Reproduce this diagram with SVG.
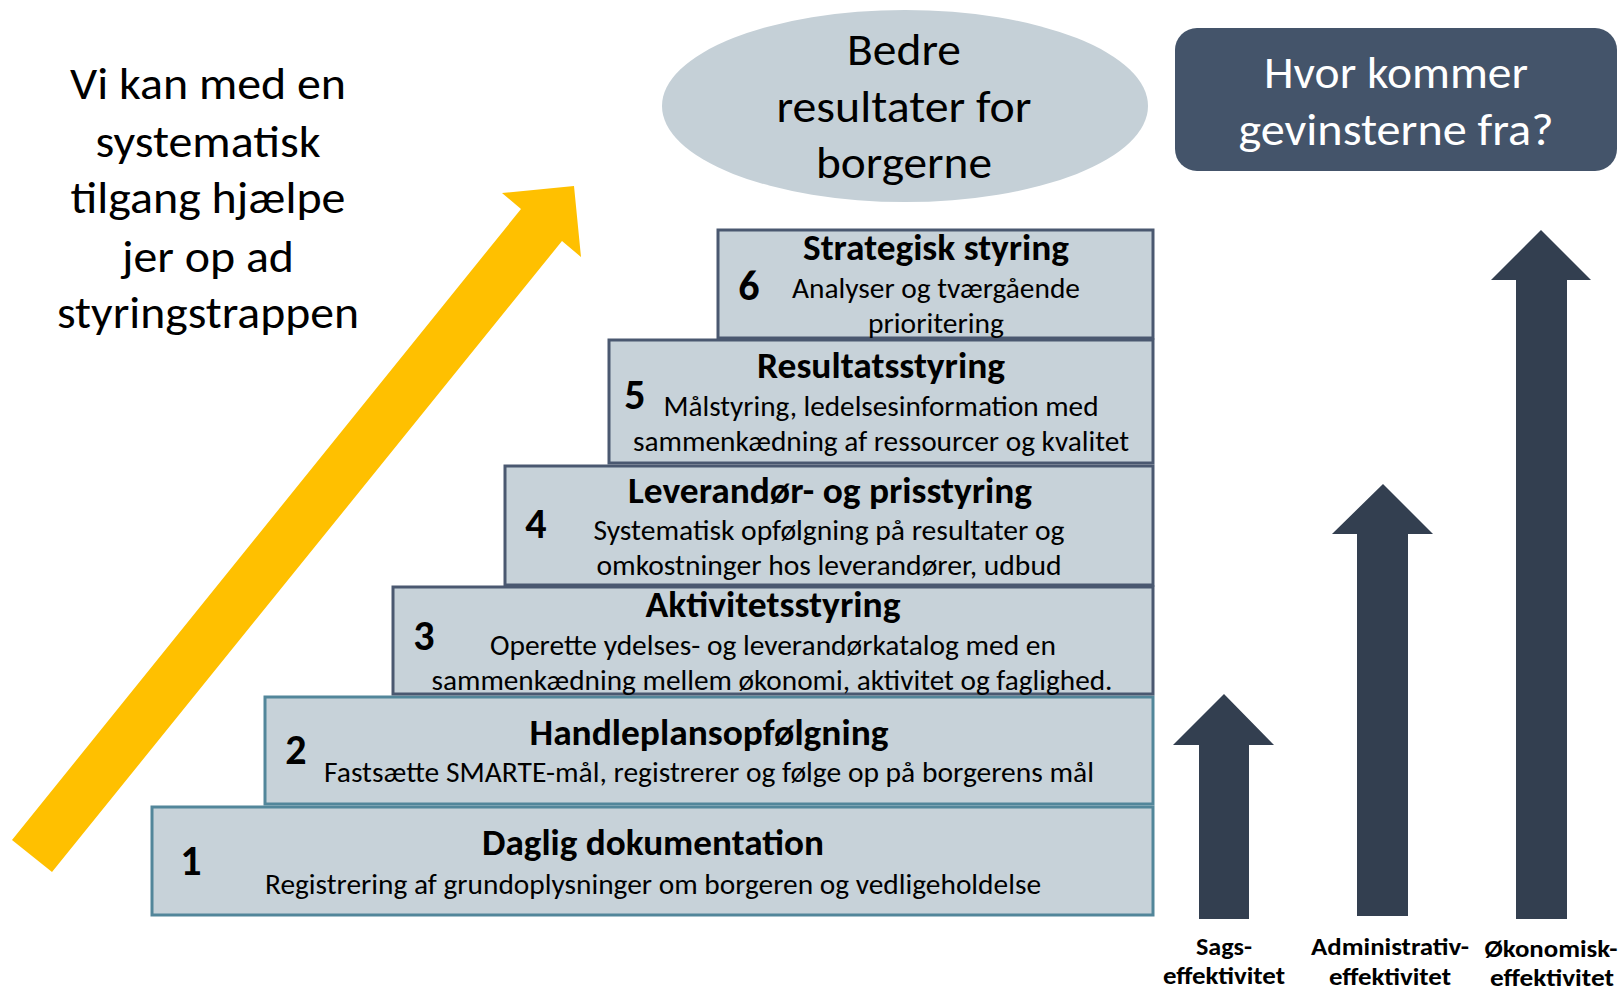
<svg xmlns="http://www.w3.org/2000/svg" width="1624" height="994" viewBox="0 0 1624 994">
<style>
text{font-family:Carlito,Calibri,"Liberation Sans",sans-serif;fill:#000}
.big{font-size:46px;text-anchor:middle}
.hd{font-size:36px;font-weight:bold;text-anchor:middle}
.sub{font-size:28px;text-anchor:middle}
.num{font-size:42px;font-weight:bold;text-anchor:middle}
.lbl{font-size:24px;font-weight:bold;text-anchor:middle}
.box{fill:#C7D2D9;stroke-width:3}
.dk{stroke:#4A5870}
.tl{stroke:#52869A}
.up{fill:#333F50}
</style>
<g id="intro">
<text class="big" x="208" y="99" textLength="276" lengthAdjust="spacingAndGlyphs">Vi kan med en</text>
<text class="big" x="208" y="157" textLength="225" lengthAdjust="spacingAndGlyphs">systematisk</text>
<text class="big" x="208" y="213" textLength="275" lengthAdjust="spacingAndGlyphs">tilgang hjælpe</text>
<text class="big" x="208" y="272" textLength="172" lengthAdjust="spacingAndGlyphs">jer op ad</text>
<text class="big" x="208" y="328" textLength="302" lengthAdjust="spacingAndGlyphs">styringstrappen</text>
</g>
<g id="yellow-arrow">
<polygon points="12,840 521,209 502,193 574,186 581,257 562,241 52,872" fill="#FFC000"/>
</g>
<g id="goal">
<ellipse cx="905" cy="106" rx="243" ry="96" fill="#C5D0D7"/>
<text class="big" x="904" y="65" textLength="114" lengthAdjust="spacingAndGlyphs">Bedre</text>
<text class="big" x="904" y="122" textLength="255" lengthAdjust="spacingAndGlyphs">resultater for</text>
<text class="big" x="904" y="178" textLength="176" lengthAdjust="spacingAndGlyphs">borgerne</text>
</g>
<g id="question">
<rect x="1175" y="28" width="442" height="143" rx="22" fill="#44546A"/>
<text class="big" x="1396" y="88" style="fill:#fff" textLength="264" lengthAdjust="spacingAndGlyphs">Hvor kommer</text>
<text class="big" x="1396" y="145" style="fill:#fff" textLength="315" lengthAdjust="spacingAndGlyphs">gevinsterne fra?</text>
</g>
<g id="step1">
<rect class="box tl" x="152" y="807" width="1001" height="108"/>
<text class="num" x="191" y="875">1</text>
<text class="hd" x="653" y="855" textLength="342" lengthAdjust="spacingAndGlyphs">Daglig dokumentation</text>
<text class="sub" x="653" y="894" textLength="776" lengthAdjust="spacingAndGlyphs">Registrering af grundoplysninger om borgeren og vedligeholdelse</text>
</g>
<g id="step2">
<rect class="box tl" x="265" y="697" width="888" height="107"/>
<text class="num" x="296" y="764">2</text>
<text class="hd" x="709" y="745" textLength="359" lengthAdjust="spacingAndGlyphs">Handleplansopfølgning</text>
<text class="sub" x="709" y="782" textLength="770" lengthAdjust="spacingAndGlyphs">Fastsætte SMARTE-mål, registrerer og følge op på borgerens mål</text>
</g>
<g id="step3">
<rect class="box dk" x="393" y="587" width="760" height="107"/>
<text class="num" x="424" y="650">3</text>
<text class="hd" x="773" y="617" textLength="255" lengthAdjust="spacingAndGlyphs">Aktivitetsstyring</text>
<text class="sub" x="773" y="655" textLength="566" lengthAdjust="spacingAndGlyphs">Operette ydelses- og leverandørkatalog med en</text>
<text class="sub" x="772" y="690" textLength="681" lengthAdjust="spacingAndGlyphs">sammenkædning mellem økonomi, aktivitet og faglighed.</text>
</g>
<g id="step4">
<rect class="box dk" x="505" y="466" width="648" height="119"/>
<text class="num" x="536" y="538">4</text>
<text class="hd" x="830" y="503" textLength="404" lengthAdjust="spacingAndGlyphs">Leverandør- og prisstyring</text>
<text class="sub" x="829" y="540" textLength="471" lengthAdjust="spacingAndGlyphs">Systematisk opfølgning på resultater og</text>
<text class="sub" x="829" y="575" textLength="465" lengthAdjust="spacingAndGlyphs">omkostninger hos leverandører, udbud</text>
</g>
<g id="step5">
<rect class="box dk" x="609" y="340" width="544" height="123"/>
<text class="num" x="635" y="409">5</text>
<text class="hd" x="881" y="378" textLength="248" lengthAdjust="spacingAndGlyphs">Resultatsstyring</text>
<text class="sub" x="881" y="416" textLength="435" lengthAdjust="spacingAndGlyphs">Målstyring, ledelsesinformation med</text>
<text class="sub" x="881" y="451" textLength="496" lengthAdjust="spacingAndGlyphs">sammenkædning af ressourcer og kvalitet</text>
</g>
<g id="step6">
<rect class="box dk" x="718" y="230" width="435" height="108"/>
<text class="num" x="749" y="300">6</text>
<text class="hd" x="936" y="260" textLength="266" lengthAdjust="spacingAndGlyphs">Strategisk styring</text>
<text class="sub" x="936" y="298" textLength="288" lengthAdjust="spacingAndGlyphs">Analyser og tværgående</text>
<text class="sub" x="936" y="333" textLength="136" lengthAdjust="spacingAndGlyphs">prioritering</text>
</g>
<g id="gain-arrows">
<g id="sags">
<polygon class="up" points="1224,694 1274,745 1249,745 1249,919 1199,919 1199,745 1173,745"/>
<text class="lbl" x="1224" y="955" textLength="56" lengthAdjust="spacingAndGlyphs">Sags-</text>
<text class="lbl" x="1224" y="984" textLength="122" lengthAdjust="spacingAndGlyphs">effektivitet</text>
</g>
<g id="administrativ">
<polygon class="up" points="1383,484 1433,534 1408,534 1408,916 1357,916 1357,534 1332,534"/>
<text class="lbl" x="1390" y="955" textLength="158" lengthAdjust="spacingAndGlyphs">Administrativ-</text>
<text class="lbl" x="1390" y="985" textLength="122" lengthAdjust="spacingAndGlyphs">effektivitet</text>
</g>
<g id="oekonomisk">
<polygon class="up" points="1541,230 1591,280 1567,280 1567,919 1516,919 1516,280 1491,280"/>
<text class="lbl" x="1551" y="957" textLength="133" lengthAdjust="spacingAndGlyphs">Økonomisk-</text>
<text class="lbl" x="1552" y="986" textLength="124" lengthAdjust="spacingAndGlyphs">effektivitet</text>
</g>
</g>
</svg>
